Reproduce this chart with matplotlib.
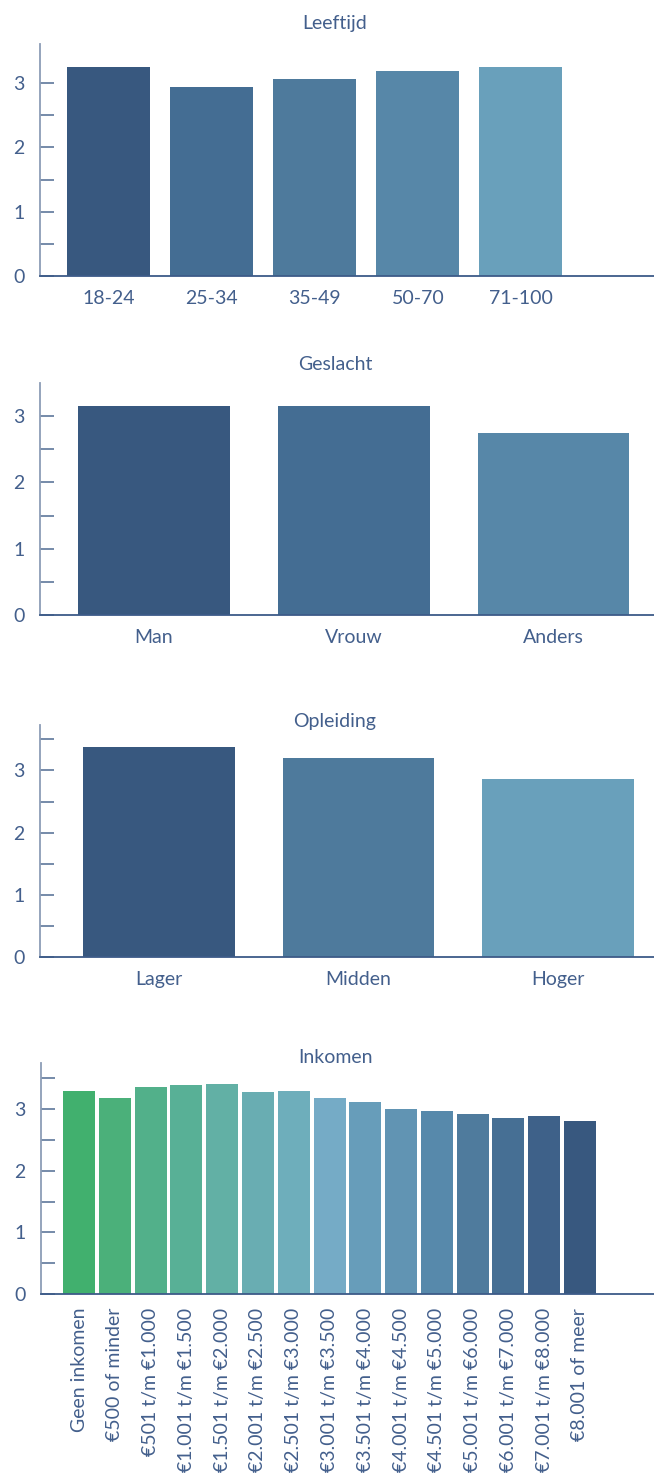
import matplotlib

matplotlib.use("Agg")
import matplotlib.pyplot as plt

plt.rcParams["font.family"] = ["Lato", "DejaVu Sans"]

TEXT = "#435f8c"
SPINE_LEFT = "#8c9db6"
SPINE_BOTTOM = "#3d5b88"
TICK = "#6a81a3"

W, H = 654, 1479
FS = 14

# --- data ---
age_labels = ["18-24", "25-34", "35-49", "50-70", "71-100"]
age_values = [3.25, 2.94, 3.07, 3.19, 3.25]
age_colors = ["#38587f", "#446d93", "#4e7a9c", "#5787a8", "#69a0bb"]

sex_labels = ["Man", "Vrouw", "Anders"]
sex_values = [3.16, 3.16, 2.75]
sex_colors = ["#38587f", "#446d93", "#5787a8"]

edu_labels = ["Lager", "Midden", "Hoger"]
edu_values = [3.38, 3.20, 2.86]
edu_colors = ["#38587f", "#4e7a9c", "#69a0bb"]

inc_labels = [
    "Geen inkomen", "€500 of minder", "€501 t/m €1.000", "€1.001 t/m €1.500",
    "€1.501 t/m €2.000", "€2.001 t/m €2.500", "€2.501 t/m €3.000",
    "€3.001 t/m €3.500", "€3.501 t/m €4.000", "€4.001 t/m €4.500",
    "€4.501 t/m €5.000", "€5.001 t/m €6.000", "€6.001 t/m €7.000",
    "€7.001 t/m €8.000", "€8.001 of meer",
]
inc_values = [3.30, 3.18, 3.36, 3.39, 3.41, 3.28, 3.30, 3.18, 3.12,
              3.00, 2.97, 2.92, 2.86, 2.89, 2.81]
inc_colors = ["#41b06e", "#4bb07a", "#52b08a", "#58b096", "#62b0a5",
              "#69adb2", "#6eaebb", "#75abc6", "#679dba", "#6194b3",
              "#5789ab", "#4f7b9d", "#466f94", "#3e6189", "#38587f"]


def px_axes(fig, left, top, right, bottom):
    return fig.add_axes([left / W, 1 - bottom / H, (right - left) / W, (bottom - top) / H])


def panel(fig, box, title, title_y, labels, values, colors, width, xlim, ylim_top,
          yticks, rotate=False):
    ax = px_axes(fig, *box)
    x = list(range(len(labels)))
    ax.bar(x, values, width=width, color=colors, zorder=2)
    ax.set_xlim(*xlim)
    ax.set_ylim(0, ylim_top)
    ax.set_yticks(yticks)
    ax.set_yticklabels([str(int(t)) if t == int(t) else "" for t in yticks])
    ax.set_xticks(x)
    if rotate:
        ax.set_xticklabels(labels, rotation=90, ha="center", va="top")
    else:
        ax.set_xticklabels(labels)
    for s in ("top", "right"):
        ax.spines[s].set_visible(False)
    ax.spines["left"].set_color(SPINE_LEFT)
    ax.spines["left"].set_linewidth(1.3)
    ax.spines["bottom"].set_color(SPINE_BOTTOM)
    ax.spines["bottom"].set_linewidth(1.3)
    ax.tick_params(axis="y", direction="in", length=10, width=1.3, color=TICK,
                   pad=11, labelsize=FS, labelcolor=TEXT)
    ax.tick_params(axis="x", length=0, pad=10, labelsize=FS, labelcolor=TEXT)
    fig.text(335 / W, 1 - title_y / H, title, ha="center", va="baseline",
             fontsize=FS, color=TEXT)
    return ax


fig = plt.figure(figsize=(W / 100, H / 100), dpi=100)

half = [0, 0.5, 1, 1.5, 2, 2.5, 3]
half35 = half + [3.5]

panel(fig, (40, 44, 654, 276), "Leeftijd", 29, age_labels, age_values, age_colors,
      0.805, (-0.664, 5.29), 3.61, half)
panel(fig, (40, 383, 654, 615), "Geslacht", 370, sex_labels, sex_values, sex_colors,
      0.76, (-0.571, 2.503), 3.50, half)
panel(fig, (40, 725, 654, 957), "Opleiding", 727, edu_labels, edu_values, edu_colors,
      0.76, (-0.596, 2.48), 3.73, half35)
panel(fig, (41, 1063, 654, 1294), "Inkomen", 1063, inc_labels, inc_values, inc_colors,
      0.895, (-1.066, 16.07), 3.75, half35, rotate=True)

fig.savefig("out.png", dpi=100, facecolor="white")
